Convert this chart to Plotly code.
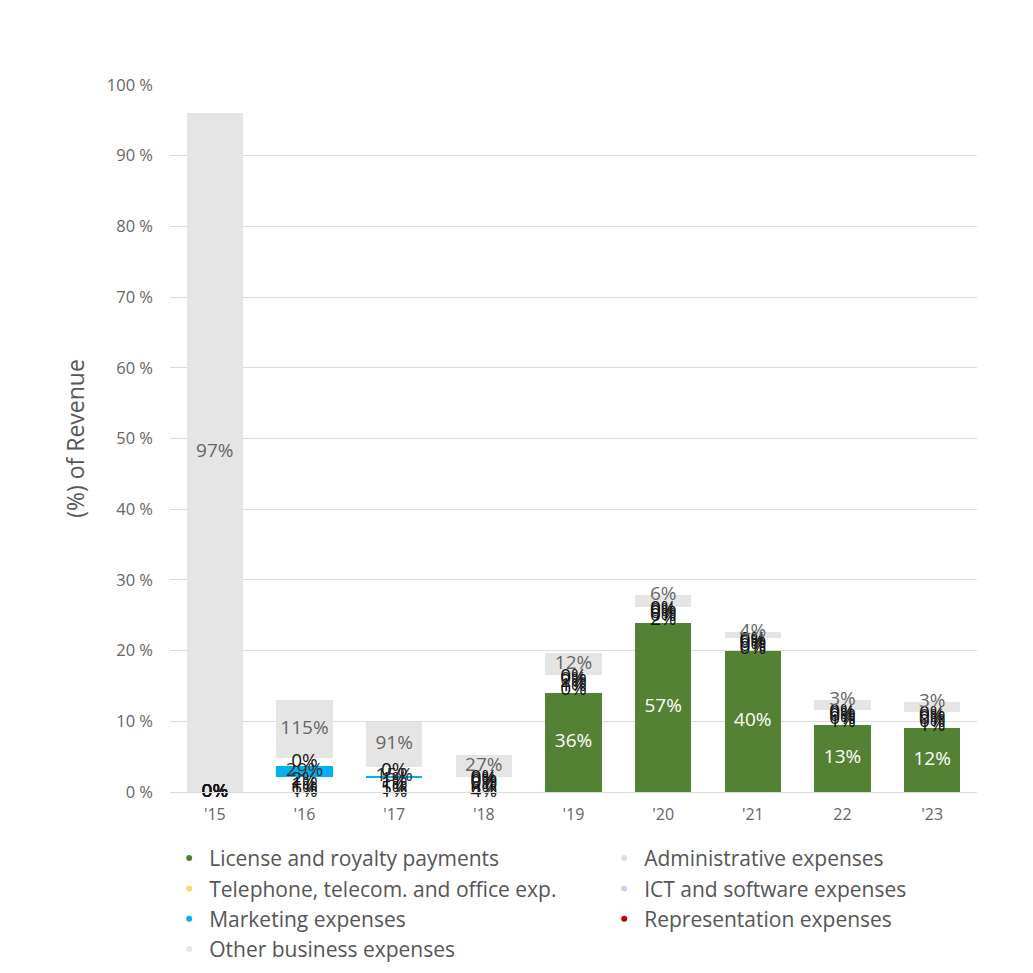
import plotly.graph_objects as go
import numpy as np

categories = ["'15", "'16", "'17", "'18", "'19", "'20", "'21", "22", "'23"]

license_vals = [0, 0, 0, 0, 14.0, 23.9, 19.9, 9.5, 9.05]
admin_vals = [0, 0.8, 0.9, 0.9, 0.8, 0.7, 0.5, 0.6, 0.6]
telephone_vals = [0, 0.3, 0.3, 0.3, 0.4, 0.4, 0.35, 0.4, 0.45]
ict_vals = [0, 1.0, 0.92, 0.5, 0.6, 0.6, 0.45, 0.5, 0.5]
marketing_vals = [0, 1.56, 0.2, 0, 0, 0, 0, 0, 0]
representation_vals = [0, 1.13, 1.22, 0.42, 0.75, 0.56, 0.54, 0.62, 0.71]
other_vals = [96.0, 8.2, 6.36, 3.11, 3.1, 1.7, 0.85, 1.41, 1.41]

license_labels = ["0%", "1%", "1%", "4%", "36%", "57%", "40%", "13%", "12%"]
admin_labels = ["0%", "6%", "5%", "6%", "0%", "2%", "0%", "1%", "1%"]
telephone_labels = ["0%", "1%", "1%", "0%", "1%", "0%", "0%", "0%", "0%"]
ict_labels = ["0%", "2%", "1%", "0%", "2%", "0%", "0%", "0%", "0%"]
marketing_labels = ["0%", "29%", "15%", "0%", "0%", "0%", "0%", "0%", "0%"]
representation_labels = ["0%", "0%", "0%", "0%", "0%", "0%", "0%", "0%", "0%"]
other_labels = ["97%", "115%", "91%", "27%", "12%", "6%", "4%", "3%", "3%"]

series = [
    # name, values, labels, bar colour, legend colour, label colour
    ("License and royalty payments", license_vals, license_labels, "#548235", "#548235", "white"),
    ("Administrative expenses", admin_vals, admin_labels, "rgba(255,255,255,0)", "#d5e8cc", "#111111"),
    ("Telephone, telecom. and office exp.", telephone_vals, telephone_labels, "rgba(255,255,255,0)", "#ffd966", "#111111"),
    ("ICT and software expenses", ict_vals, ict_labels, "rgba(255,255,255,0)", "#c7d4ee", "#111111"),
    ("Marketing expenses", marketing_vals, marketing_labels, "#00b0f0", "#00b0f0", "#333333"),
    ("Representation expenses", representation_vals, representation_labels, "rgba(255,255,255,0)", "#c00000", "#111111"),
    ("Other business expenses", other_vals, other_labels, "#e6e5e5", "#e6e6e6", "#666666"),
]

FONT = "Open Sans"
fig = go.Figure()

base = np.zeros(len(categories))
label_traces = []
for name, vals, labels, bar_col, leg_col, lab_col in series:
    v = np.array(vals, dtype=float)
    fig.add_trace(go.Bar(
        x=categories, y=v, name=name, marker=dict(color=bar_col, line=dict(width=0)),
        showlegend=False, hoverinfo="skip",
    ))
    if name.startswith("Other"):
        ypos = np.where(v < 2.5, base + v, base + v / 2)
    else:
        ypos = base + v / 2
    if name.startswith("License"):
        cols = [lab_col if val > 1 else "#222222" for val in v]
    else:
        cols = [lab_col] * len(v)
    label_traces.append(go.Scatter(
        x=categories, y=ypos, mode="text", text=labels,
        textposition="middle center",
        textfont=dict(family=FONT, size=19, color=cols),
        showlegend=False, hoverinfo="skip", cliponaxis=False,
    ))
    base = base + v

for t in label_traces:
    fig.add_trace(t)

for name, vals, labels, bar_col, leg_col, lab_col in series:
    fig.add_trace(go.Scatter(
        x=[None], y=[None], mode="markers", name=name,
        marker=dict(color=leg_col, size=6, symbol="circle"),
        showlegend=True,
    ))

fig.update_layout(
    barmode="stack",
    bargap=0.375,
    width=1033, height=973,
    margin=dict(l=162, r=64, t=77, b=189, autoexpand=False),
    paper_bgcolor="white", plot_bgcolor="white",
    font=dict(family=FONT, color="#666666"),
    showlegend=True,
    legend=dict(
        orientation="h", x=-0.001, y=-0.065, xanchor="left", yanchor="top",
        entrywidth=390, entrywidthmode="pixels",
        font=dict(family=FONT, size=21, color="#555555"),
        itemwidth=30, traceorder="normal",
    ),
    yaxis=dict(
        range=[0, 100], dtick=10, ticksuffix=" %",
        gridcolor="#dcdcdc", gridwidth=1, zeroline=False, automargin=False,
        showline=False, tickfont=dict(family=FONT, size=16.5, color="#666666"),
        ticklabelstandoff=16,
        title=dict(text="(%) of Revenue", font=dict(family=FONT, size=23, color="#555555"), standoff=15),
    ),
    xaxis=dict(
        type="category", showline=True, linecolor="#dcdcdc", linewidth=1, automargin=False,
        tickfont=dict(family=FONT, size=16, color="#666666"), ticks="",
        ticklabelstandoff=8,
    ),
)

fig.write_html("out.html")
